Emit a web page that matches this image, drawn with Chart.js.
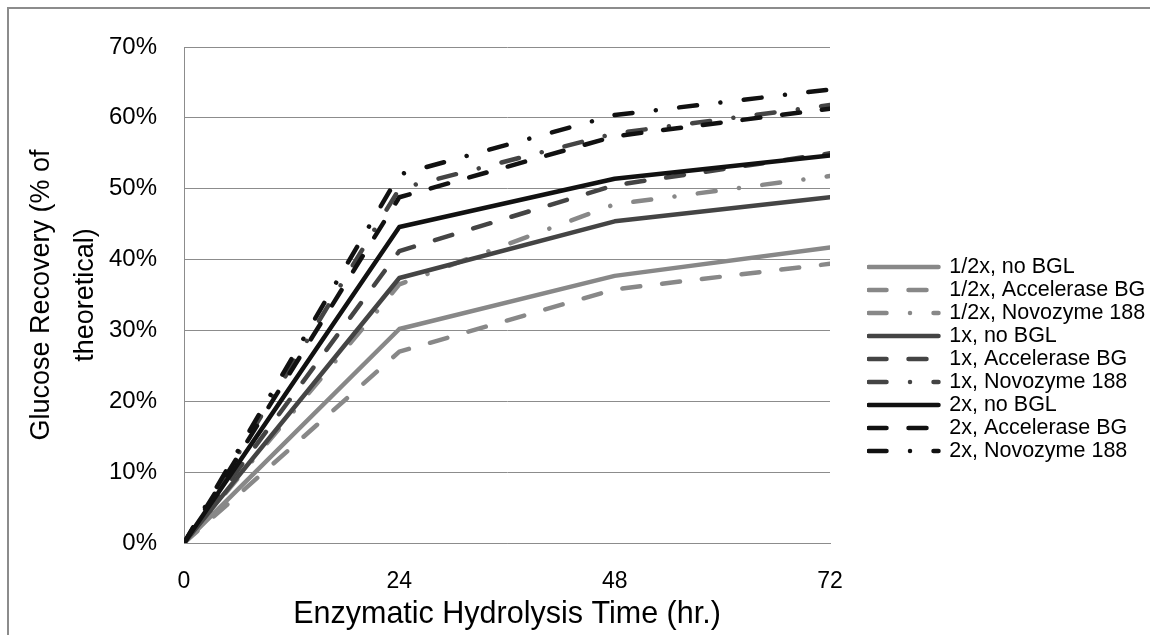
<!DOCTYPE html>
<html>
<head>
<meta charset="utf-8">
<script src="https://cdn.jsdelivr.net/npm/chart.js@4/dist/chart.umd.min.js"></script>
<style>
  html, body { margin: 0; padding: 0; background: #fff; }
  #wrap { position: relative; width: 1150px; height: 635px; }
  #frame { position: absolute; left: 7px; top: 7px; right: -4px; bottom: -4px;
           border-top: 2px solid #8c8c8c; border-left: 2px solid #8c8c8c; pointer-events: none; }
  canvas { display: block; }
</style>
</head>
<body>
<div id="wrap">
  <canvas id="chart" width="1150" height="635"></canvas>
  <div id="frame"></div>
</div>
<script>
// hydrolysis time (hr.) and glucose recovery (% of theoretical)
const hours = [0, 24, 48, 72];
const yTicks = [0, 10, 20, 30, 40, 50, 60, 70];

const halfNoBgl = [0, 30.2, 37.7, 41.7];
const halfAccel = [0, 27.0, 35.8, 39.4];
const halfNovo = [0, 36.5, 47.8, 51.8];
const oneNoBgl = [0, 37.4, 45.4, 48.8];
const oneAccel = [0, 41.2, 50.5, 55.0];
const oneNovo = [0, 50.0, 57.8, 61.8];
const twoNoBgl = [0, 44.6, 51.4, 54.7];
const twoAccel = [0, 48.8, 57.4, 61.3];
const twoNovo = [0, 52.0, 60.4, 64.0];

const GRAY = "#888888";
const DARK = "#444444";
const BLACK = "#111111";
const DASH = [18, 22];
const DASH_DOT = [18, 23.5, 0.01, 23.5];

Chart.defaults.font.family = "'Liberation Sans', Arial, sans-serif";
Chart.defaults.color = "#000";

function series(label, values, color, dash, order) {
  return {
    label: label,
    data: hours.map((h, i) => ({ x: h, y: values[i] })),
    borderColor: color,
    backgroundColor: color,
    borderWidth: 4.5,
    borderDash: dash,
    borderCapStyle: "round",
    borderJoinStyle: "round",
    pointRadius: 0,
    tension: 0,
    order: order,
  };
}

const ctx = document.getElementById("chart").getContext("2d");
new Chart(ctx, {
  type: "line",
  data: {
    datasets: [
      series("1/2x, no BGL", halfNoBgl, GRAY, [], 3),
      series("1/2x, Accelerase BG", halfAccel, GRAY, DASH, 3),
      series("1/2x, Novozyme 188", halfNovo, GRAY, DASH_DOT, 3),
      series("1x, no BGL", oneNoBgl, DARK, [], 2),
      series("1x, Accelerase BG", oneAccel, DARK, DASH, 2),
      series("1x, Novozyme 188", oneNovo, DARK, DASH_DOT, 2),
      series("2x, no BGL", twoNoBgl, BLACK, [], 1),
      series("2x, Accelerase BG", twoAccel, BLACK, DASH, 1),
      series("2x, Novozyme 188", twoNovo, BLACK, DASH_DOT, 1),
    ],
  },
  options: {
    responsive: false,
    animation: false,
    layout: { padding: { left: 8, top: 47, right: 0, bottom: 0 } },
    plugins: {
      tooltip: { enabled: false },
      legend: {
        position: "right",
        align: "center",
        maxWidth: 283,
        title: { display: true, text: "", font: { size: 10, lineHeight: 1 }, padding: { top: 0, bottom: 26 } },
        labels: {
          usePointStyle: true,
          pointStyleWidth: 70,
          padding: 1.5,
          color: "#000",
          font: { size: 21.5 },
          generateLabels: (chart) =>
            chart.data.datasets.map((ds, i) => ({
              text: ds.label,
              strokeStyle: ds.borderColor,
              fillStyle: ds.borderColor,
              lineWidth: ds.borderWidth,
              lineDash: ds.borderDash,
              lineCap: ds.borderCapStyle,
              pointStyle: "line",
              fontColor: "#000",
              hidden: false,
              datasetIndex: i,
            })),
        },
      },
    },
    scales: {
      x: {
        type: "linear",
        min: 0,
        max: 72,
        afterBuildTicks: (s) => { s.ticks = hours.map((h) => ({ value: h })); },
        grid: { display: false },
        border: { color: "#8c8c8c", width: 1 },
        ticks: { padding: 17, font: { size: 23 }, color: "#000" },
        title: {
          display: true,
          text: "Enzymatic Hydrolysis Time (hr.)",
          font: { size: 30.5 },
          color: "#000",
          padding: { top: 0, bottom: 2 },
        },
        afterFit: (s) => { s.height = 92; },
      },
      y: {
        min: 0,
        max: 70,
        afterBuildTicks: (s) => { s.ticks = yTicks.map((v) => ({ value: v })); },
        grid: { color: "#8c8c8c", lineWidth: 1, drawTicks: false },
        border: { color: "#8c8c8c", width: 1 },
        ticks: { padding: 27, font: { size: 24 }, color: "#000", callback: (v) => v + "%" },
        title: {
          display: true,
          text: ["Glucose Recovery (% of", "theoretical)"],
          font: { size: 27, lineHeight: 1.63 },
          color: "#000",
          padding: { top: 12, bottom: 0 },
        },
        afterFit: (s) => { s.width = 176; },
      },
      gap: {
        type: "linear",
        axis: "y",
        position: "right",
        display: true,
        grid: { display: false },
        border: { display: false },
        ticks: { display: false },
        afterFit: (s) => { s.width = 37; },
      },
    },
  },
});
</script>
</body>
</html>
